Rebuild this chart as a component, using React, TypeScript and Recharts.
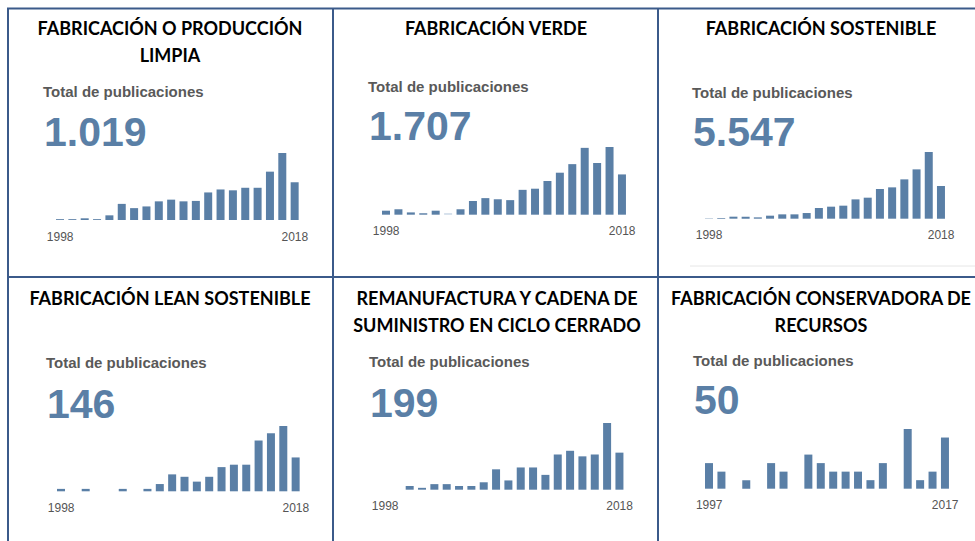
import { BarChart, Bar, XAxis, YAxis, Cell } from 'recharts';

// publicaciones por año (20 barras por panel)
const limpiaValues = [2, 2, 4, 2, 11, 38, 28, 32, 44, 48, 44, 45, 65, 72, 70, 76, 76, 114, 158, 89];
const verdeValues = [14, 19, 8, 5, 14, 5, 19, 48, 58, 54, 51, 87, 91, 118, 147, 177, 234, 181, 237, 141];
const sostenibleValues = [5, 11, 32, 32, 21, 48, 69, 69, 90, 170, 191, 207, 307, 334, 472, 498, 625, 784, 1060, 520];
const leanValues = [1, 0, 1, 0, 0, 1, 0, 1, 3, 7, 6, 4, 6, 10, 11, 11, 21, 24, 27, 14];
const remanValues = [0, 0, 2, 1, 3, 3, 2, 2, 4, 11, 5, 12, 12, 8, 19, 21, 18, 19, 36, 20];
const conservValues = [3, 2, 0, 1, 0, 3, 2, 0, 4, 3, 2, 2, 2, 1, 3, 0, 7, 1, 2, 6];

const tickLabels1998 = ['1998', '2018'];
const tickLabels1997 = ['1997', '2017'];

const titles = [
  ['FABRICACIÓN O PRODUCCIÓN', 'LIMPIA'],
  ['FABRICACIÓN VERDE'],
  ['FABRICACIÓN SOSTENIBLE'],
  ['FABRICACIÓN LEAN SOSTENIBLE'],
  ['REMANUFACTURA Y CADENA DE', 'SUMINISTRO EN CICLO CERRADO'],
  ['FABRICACIÓN CONSERVADORA DE', 'RECURSOS'],
];
const totals = ['1.019', '1.707', '5.547', '146', '199', '50'];

const BAR = '#5a7fa6';
const BORDER = '#3b5a8a';

const panels = [
  { values: limpiaValues, ticks: tickLabels1998, cx: 170, titleY: 35, textX: 43, totalY: 97, numY: 146, left: 54, width: 247, baseline: 220, plotH: 67 },
  { values: verdeValues, ticks: tickLabels1998, cx: 496, titleY: 35, textX: 368, totalY: 92, numY: 140, left: 379.5, width: 248.4, baseline: 214.3, plotH: 67.7, light: 5 },
  { values: sostenibleValues, ticks: tickLabels1998, cx: 821, titleY: 35, textX: 692, totalY: 98, numY: 146, left: 702.8, width: 244.2, baseline: 218.3, plotH: 66.7 },
  { values: leanValues, ticks: tickLabels1998, cx: 170, titleY: 305, textX: 46, totalY: 368, numY: 418, left: 54.5, width: 247, baseline: 491, plotH: 65.3 },
  { values: remanValues, ticks: tickLabels1998, cx: 497, titleY: 305, textX: 369, totalY: 367, numY: 417, left: 379.4, width: 246.8, baseline: 490, plotH: 66.7 },
  { values: conservValues, ticks: tickLabels1997, cx: 821, titleY: 305, textX: 693, totalY: 366, numY: 414, left: 702.8, width: 248.4, baseline: 488.3, plotH: 59.7 },
];

const AXIS_H = 24;
const PAD = 20;

function MiniBars({ p }: { p: any }) {
  const data = p.values.map((v: number, i: number) => ({ i, v }));
  const max = Math.max(...p.values);
  const last = p.values.length - 1;
  const w = p.width + PAD * 2;
  return (
    <div style={{ position: 'absolute', left: p.left - PAD, top: p.baseline - p.plotH, width: w, height: p.plotH + AXIS_H }}>
      <BarChart width={w} height={p.plotH + AXIS_H} data={data} margin={{ top: 0, right: PAD, bottom: 0, left: PAD }} barCategoryGap={2}>
        <XAxis
          dataKey="i"
          height={AXIS_H}
          axisLine={false}
          tickLine={false}
          interval={0}
          ticks={[0, last]}
          tickFormatter={(i: number) => (i === 0 ? p.ticks[0] : p.ticks[1])}
          tick={{ fill: '#555', fontSize: 12, fontFamily: 'Liberation Sans, Arial, sans-serif' }}
          tickMargin={6}
        />
        <YAxis hide domain={[0, max]} />
        <Bar dataKey="v" fill={BAR} isAnimationActive={false}>
          {data.map((d: any) => (
            <Cell key={d.i} fill={d.i === p.light ? '#c9d7e5' : BAR} />
          ))}
        </Bar>
      </BarChart>
    </div>
  );
}

export default function App() {
  return (
    <div style={{ position: 'fixed', left: 0, top: 0, width: 975, height: 541, background: '#fff', overflow: 'hidden' }}>
      <svg width={975} height={541} style={{ position: 'absolute', left: 0, top: 0 }}>
        {/* marco */}
        <line x1={7} y1={8.5} x2={975} y2={8.5} stroke={BORDER} strokeWidth={2} />
        <line x1={8} y1={8} x2={8} y2={541} stroke={BORDER} strokeWidth={2} />
        <line x1={333} y1={8} x2={333} y2={541} stroke={BORDER} strokeWidth={2} />
        <line x1={658} y1={8} x2={658} y2={541} stroke={BORDER} strokeWidth={2} />
        <line x1={7} y1={277} x2={975} y2={277} stroke={BORDER} strokeWidth={2} />
        <line x1={690} y1={266} x2={975} y2={266} stroke="#e6e6e6" strokeWidth={1} />

        {panels.map((p, k) => (
          <g key={k}>
            {titles[k].map((t, j) => (
              <text key={j} x={p.cx} y={p.titleY + j * 27} textAnchor="middle" fontFamily="Lato, 'Open Sans', sans-serif" fontWeight={700} fontSize={18} fill="#000">
                {t}
              </text>
            ))}
            <text x={p.textX} y={p.totalY} fontFamily="'Liberation Sans', Arial, sans-serif" fontWeight={700} fontSize={15} fill="#595959">
              Total de publicaciones
            </text>
            <text x={p.textX + 1} y={p.numY} fontFamily="'Liberation Sans', Arial, sans-serif" fontWeight={700} fontSize={41} fill={BAR}>
              {totals[k]}
            </text>
          </g>
        ))}
      </svg>
      {panels.map((p, k) => (
        <MiniBars key={k} p={p} />
      ))}
    </div>
  );
}
